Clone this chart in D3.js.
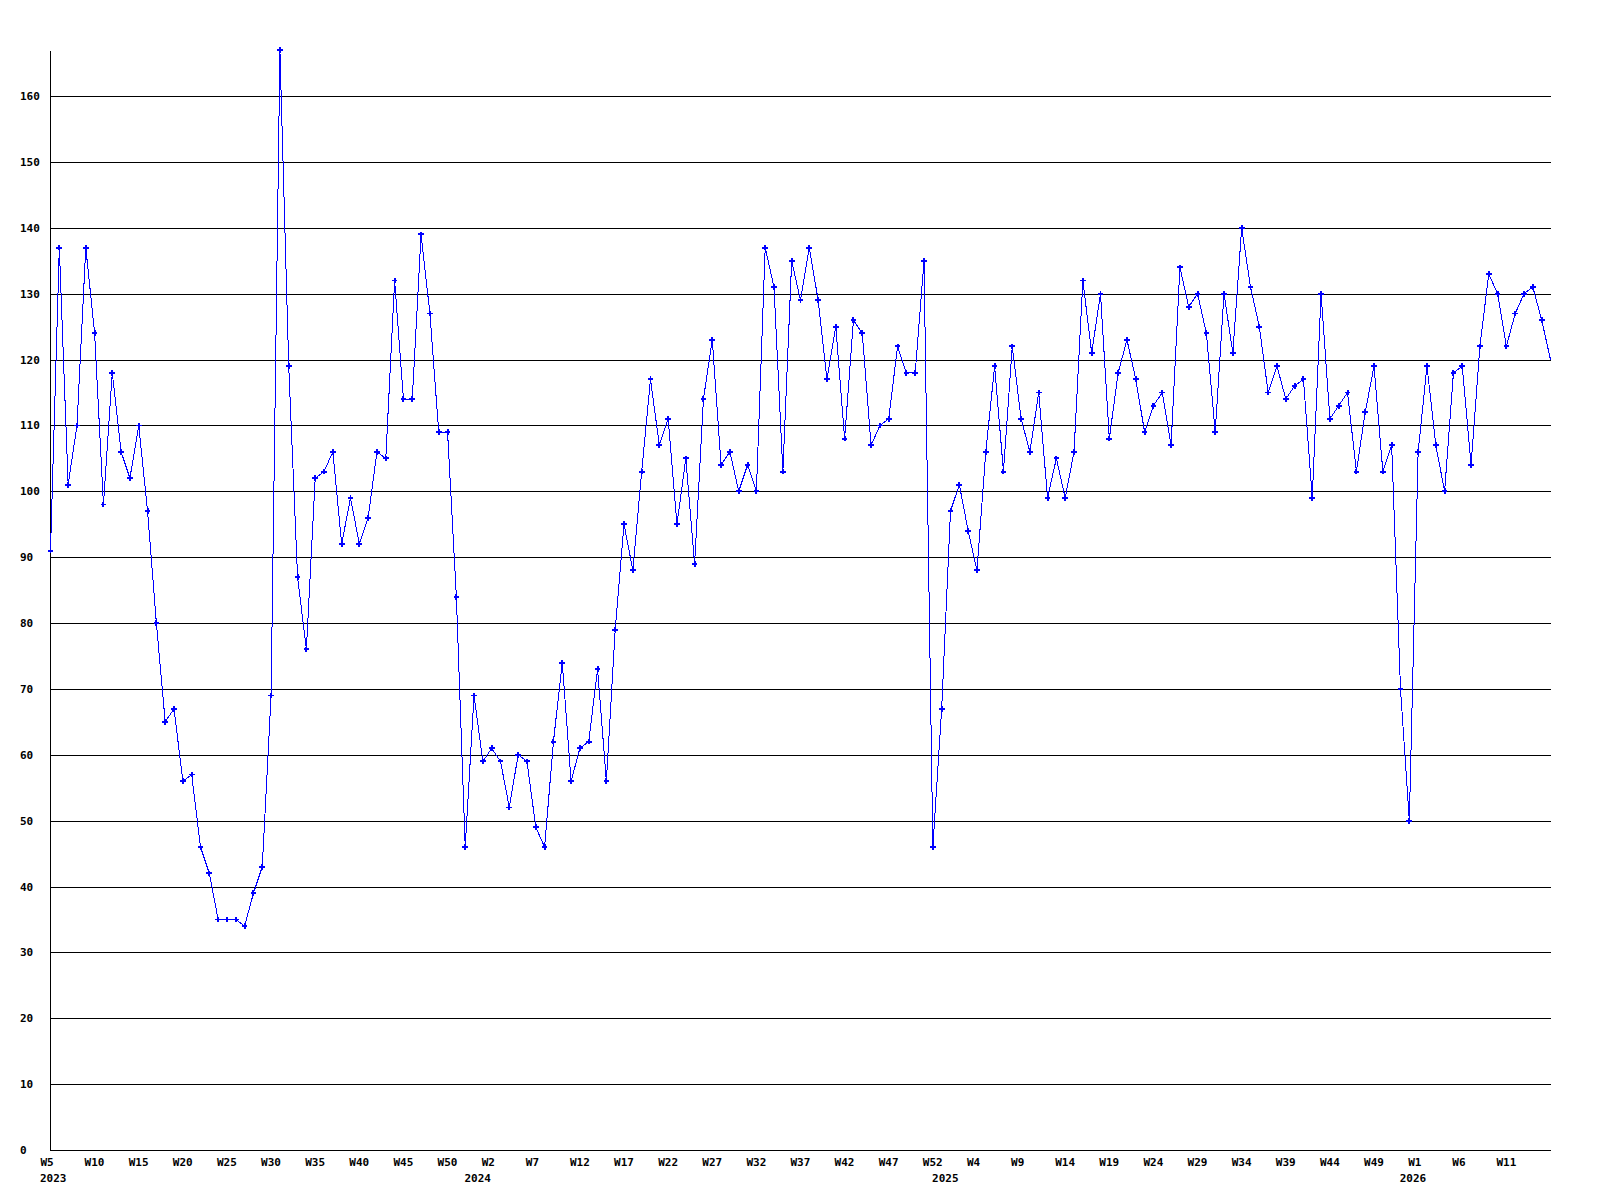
<!DOCTYPE html>
<html>
<head>
<meta charset="utf-8">
<script src="https://cdn.jsdelivr.net/npm/d3@7"></script>
<style>
  body { margin: 0; background: #fff; }
  text { font-family: "DejaVu Sans Mono", monospace; font-weight: bold; font-size: 11px; fill: #000; }
</style>
</head>
<body>
<svg id="chart"></svg>
<script>
// weekly values, one array per year (first week of each year in firstWeek)
var values2023 = [91, 137, 101, 110, 137, 124, 98, 118, 106, 102, 110, 97, 80, 65, 67, 56, 57, 46, 42, 35,
                  35, 35, 34, 39, 43, 69, 167, 119, 87, 76, 102, 103, 106, 92, 99, 92, 96, 106, 105, 132,
                  114, 114, 139, 127, 109, 109, 84, 46, 69];
var values2024 = [59, 61, 59, 52, 60, 59, 49, 46, 62, 74, 56, 61, 62, 73, 56, 79, 95, 88, 103, 117,
                  107, 111, 95, 105, 89, 114, 123, 104, 106, 100, 104, 100, 137, 131, 103, 135, 129, 137, 129, 117,
                  125, 108, 126, 124, 107, 110, 111, 122, 118, 118, 135, 46, 67];
var values2025 = [97, 101, 94, 88, 106, 119, 103, 122, 111, 106, 115, 99, 105, 99, 106, 132, 121, 130, 108, 118,
                  123, 117, 109, 113, 115, 107, 134, 128, 130, 124, 109, 130, 121, 140, 131, 125, 115, 119, 114, 116,
                  117, 99, 130, 111, 113, 115, 103, 112, 119, 103, 107, 70, 50];
var values2026 = [106, 119, 107, 100, 118, 119, 104, 122, 133, 130, 122, 127, 130, 131, 126, 120];

var years = [2023, 2024, 2025, 2026];
var firstWeek = [5, 1, 1, 1];
var yTicks = [0, 10, 20, 30, 40, 50, 60, 70, 80, 90, 100, 110, 120, 130, 140, 150, 160];

var width = 1600, height = 1200;
var plot = {left: 50, right: 1551, top: 50, bottom: 1150};

var data = [];
[values2023, values2024, values2025, values2026].forEach(function(vals, k) {
  vals.forEach(function(v, i) {
    var wk = firstWeek[k] + i;
    data.push({year: years[k], week: wk, value: v, key: years[k] + "-W" + wk});
  });
});

var x = d3.scalePoint()
    .domain(data.map(function(d) { return d.key; }))
    .range([plot.left + 0.5, plot.right - 0.5]);

var y = d3.scaleLinear()
    .domain([0, d3.max(data, function(d) { return d.value; })])
    .range([plot.bottom, plot.top]);

var svg = d3.select("#chart")
    .attr("width", width)
    .attr("height", height)
    .style("background", "#fff");

// y axis with full-width grid lines
svg.append("g")
    .attr("transform", "translate(" + plot.left + ",0)")
    .call(d3.axisLeft(y)
      .tickValues(yTicks)
      .tickSize(-(plot.right - plot.left))
      .tickSizeOuter(0))
    .call(function(g) {
      g.selectAll("path, line").attr("stroke", "#000").attr("shape-rendering", "crispEdges");
      g.selectAll("text").attr("text-anchor", "start").attr("x", -30);
    });

// x axis, week label every 5 points (none on the last point, it would not fit)
var keys = x.domain();
var tickKeys = keys.filter(function(d, i) { return i % 5 === 0 && i < keys.length - 1; });
svg.append("g")
    .attr("transform", "translate(0," + plot.bottom + ")")
    .call(d3.axisBottom(x)
      .tickValues(tickKeys)
      .tickSize(0)
      .tickSizeOuter(0)
      .tickFormat(function(k) { return k.split("-")[1]; }))
    .call(function(g) {
      g.select(".domain").attr("stroke", "#000").attr("shape-rendering", "crispEdges")
        .attr("d", "M" + plot.left + ",0.5H" + plot.right);
      g.selectAll("text").attr("text-anchor", "start").attr("x", -10.5).attr("y", 16).attr("dy", null);
    });

// year labels, between the last week of a year and the first of the next
years.forEach(function(yr) {
  var rows = data.filter(function(d) { return d.year === yr; });
  var idx = data.indexOf(rows[0]);
  var mid = idx > 0 ? (x(data[idx - 1].key) + x(rows[0].key)) / 2 : x(rows[0].key);
  svg.append("text")
      .attr("x", Math.max(40, mid - 14))
      .attr("y", 1181.5)
      .text(yr);
});

// the series
var line = d3.line()
    .x(function(d) { return x(d.key); })
    .y(function(d) { return y(d.value); });

svg.append("path")
    .datum(data)
    .attr("fill", "none")
    .attr("stroke", "#0000ff")
    .attr("stroke-width", 1)
    .attr("shape-rendering", "crispEdges")
    .attr("d", line);

svg.selectAll(".dot")
    .data(data.slice(0, -1))
  .enter().append("path")
    .attr("class", "dot")
    .attr("fill", "#0000ff")
    .attr("shape-rendering", "crispEdges")
    .attr("transform", function(d) { return "translate(" + x(d.key) + "," + y(d.value) + ")"; })
    .attr("d", d3.symbol(d3.symbolCross, 18));
</script>
</body>
</html>
